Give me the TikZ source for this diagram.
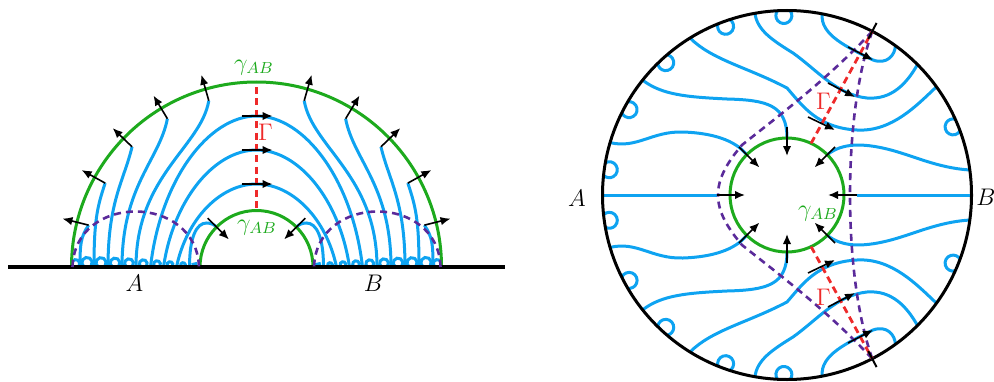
\documentclass[tikz,border=0pt]{standalone}
\usepackage{tikz}
\usetikzlibrary{arrows.meta}
\definecolor{flowblue}{HTML}{0EA3F1}
\definecolor{rtgreen}{HTML}{1DAA1D}
\definecolor{gamred}{HTML}{EE2A2A}
\definecolor{geopurple}{HTML}{5A2A9A}
\tikzset{
  loop/.pic={\draw[field] (3.46,0) arc[start angle=57.8,end angle=-237.8,radius=6.5];},
  cap/.pic={\draw[field] (6.24,0) arc[start angle=38.7,end angle=-218.7,radius=8];}
}

\begin{document}
\begin{tikzpicture}[
  x=0.5pt, y=0.5pt,
  field/.style={draw=flowblue, line width=1.5pt},
  horizon/.style={draw=black, line width=1.6pt},
  rt/.style={draw=rtgreen, line width=1.5pt},
  geo/.style={draw=geopurple, line width=1.3pt, dash pattern=on 3.5pt off 2.5pt},
  gam/.style={draw=gamred, line width=1.4pt, dash pattern=on 3.5pt off 2.2pt},
  arr/.style={-{Latex[length=5pt,width=4.2pt]}, line width=0.8pt},
  lbl/.style={font=\large, inner sep=0pt}
]
  \useasboundingbox (0,0) rectangle (994,381);
  % half plane
  \begin{scope}[shift={(256.5,114)}]
    \foreach \s in {1,-1}{
      \begin{scope}[xscale=\s]
        \foreach \f/\t in {-176.5/166,-162.5/151,-148.5/136,-134.5/121,-120.5/106}{
          \pgfmathsetmacro\ex{173*cos(\t)}
          \pgfmathsetmacro\ey{173*sin(\t)}
          \draw[field] (\f,0) .. controls (\f,0.55*\ey) and (\ex-8,0.72*\ey) .. (\ex,\ey);
        }
        \draw[field] (-67,0) .. controls (-67,30) and (-60,44) .. (-50,44) .. controls (-45,44) and (-42,42) .. (135:57);
      \end{scope}
    }
    \foreach \x/\k in {180.8/0.62,169.5/0.8,155.5/0.78,141.5/0.74,127.5/0.68,113.25/0.6,99.5/0.52,86.5/0.44,73.5/0.36,61.75/0.3}
      \foreach \s in {1,-1}
        \pic[shift={(\s*\x,0)},rotate=180,scale=\k] {loop};
    \foreach \f/\p in {106/151,93/117,80/83}
      \draw[field] (-\f,0) .. controls (-\f+10,0.58*\p) and (-0.45*\f,\p) .. (0,\p) .. controls (0.45*\f,\p) and (\f-10,0.58*\p) .. (\f,0);
    \draw[rt] (185,0) arc[start angle=0,end angle=180,radius=185];
    \draw[rt] (56.5,0) arc[start angle=0,end angle=180,radius=56.5];
    \draw[horizon] (-248.5,0) -- (248.5,0);
    \draw[gam] (0,180) -- (0,59);
    \foreach \s in {1,-1}{
      \begin{scope}[xscale=\s]
        \draw[geo] (-184,0) .. controls (-182,74) and (-60,74) .. (-57.5,0);
        \foreach \t in {166,151,136,121,106}
          \draw[arr] (\t:173) -- (\t:200);
        \draw[arr] (135:69) -- (135:39);
      \end{scope}
    }
    \foreach \p in {151,117,83}
      \draw[arr] (-15,\p) -- (16,\p);
    \node[lbl] (hpA) at (-122,-16.5) {$A$};
    \node[lbl] (hpB) at (117,-16.5) {$B$};
    \node[lbl, text=rtgreen] (hpOuter) at (-2.5,199.5) {$\gamma_{AB}$};
    \node[lbl, text=rtgreen] (hpInner) at (0.5,39.5) {$\gamma_{AB}$};
    \node[lbl, text=gamred] (hpGamma) at (9,135) {$\Gamma$};
  \end{scope}

  % disk
  \begin{scope}[shift={(787,186)}]
    \draw[field] (-184.5,0) -- (-70,0);
    \draw[field] (184.5,0) -- (70,0);
    \foreach \s in {1,-1}{
      \begin{scope}[yscale=\s]
        \draw[field] (163.5:184.5) .. controls (-150,46) and (-135,64) .. (-104,63) .. controls (-75,62) and (-52,55) .. (135:57);
        \draw[field] (141.5:184.5) .. controls (-125,100) and (-100,98) .. (-60,96) .. controls (-20,95) and (0,90) .. (90:57);
        \draw[field] (7.8:184.5) .. controls (150,27) and (125,40) .. (100,46) .. controls (75,52) and (55,52) .. (45:57);
        \draw[field] (121.7:184.5) .. controls (-75,135) and (-40,128) .. (0,107) .. controls (15,90) and (30,67) .. (70,65) .. controls (105,63) and (130,90) .. (35.9:184.5);
        \draw[field] (100:184.5) .. controls (-30,165) and (-15,155) .. (6,142) .. controls (30,125) and (50,100) .. (80,97) .. controls (105,95) and (120,112) .. (45:184.5);
        \draw[field] (79:184.5) .. controls (33,160) and (60,148) .. (86,135) .. controls (100,130) and (108,140) .. (54:184.5);
      \end{scope}
    }
    \foreach \t in {171.9,151.6,132.5,110,91,22.3}
      \foreach \s in {1,-1}
        \pic[shift={(\s*\t:184.5)},rotate=\s*\t-90] {cap};
    \draw[horizon, line width=1.5pt] (0,0) circle[radius=184.5];
    \draw[rt] (0,0) circle[radius=57];
    \foreach \s in {1,-1}{
      \begin{scope}[yscale=\s]
        \draw[geo] (62.5:184.5) .. controls (40,115) and (-10,78) .. (-45,50) .. controls (-62,30) and (-69,15) .. (-69,0);
        \draw[geo] (62.5:184.5) .. controls (70,120) and (63,60) .. (63,0);
        \draw[gam] (65:57) -- (62.5:184.5);
        \draw[line width=1pt] (62.5:176) -- (62.5:194);
        \foreach \t in {45,90,135}
          \draw[arr] (\t:68) -- (\t:39);
        \draw[arr] (61,148) -- (86,135);
        \draw[arr] (41,112) -- (68,98);
        \draw[arr] (21,78) -- (48,65);
      \end{scope}
    }
    \draw[arr] (-70,0) -- (-42,0);
    \draw[arr] (70,0) -- (41,0);
    \node[lbl] (dkA) at (-210,-3) {$A$};
    \node[lbl] (dkB) at (199,-2.5) {$B$};
    \node[lbl, text=rtgreen] (dkGam) at (31,-18.5) {$\gamma_{AB}$};
    \node[lbl, text=gamred] (dkUp) at (36.5,93.5) {$\Gamma$};
    \node[lbl, text=gamred] (dkDown) at (36.5,-102.5) {$\Gamma$};
  \end{scope}
\end{tikzpicture}
\end{document}
